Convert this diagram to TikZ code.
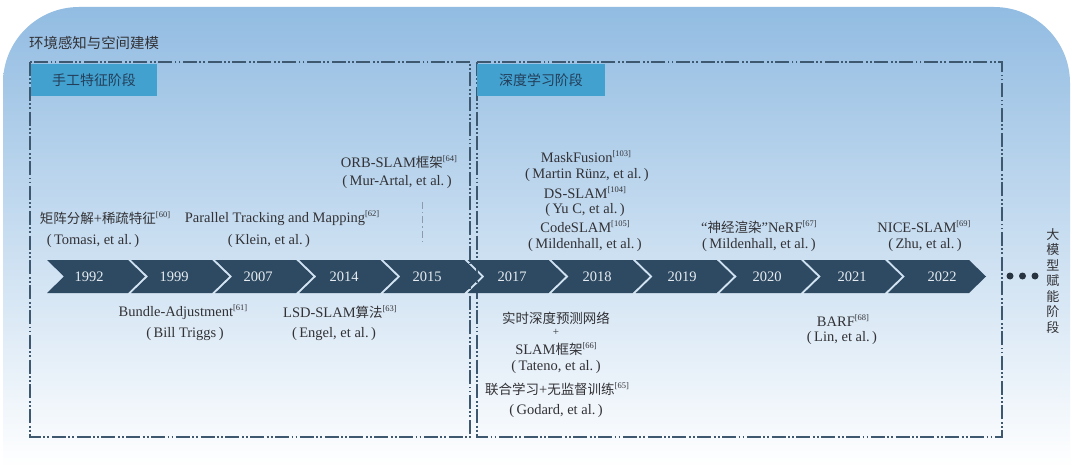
\documentclass[tikz,border=0pt]{standalone}
\usepackage{fontspec}
\setmainfont{Liberation Serif}
\newfontfamily\cjk[Scale=0.93]{Noto Sans CJK SC}
\newcommand{\zh}[1]{{\cjk #1}}
\newcommand{\refn}[1]{\raisebox{0.42em}{\fontsize{8.5}{9}\selectfont[#1]}}
\definecolor{bgtop}{RGB}{146,188,226}
\definecolor{stagefill}{RGB}{66,161,206}
\definecolor{stagetxt}{RGB}{36,62,90}
\definecolor{chevcol}{RGB}{46,74,98}
\definecolor{yeartxt}{RGB}{230,236,241}
\definecolor{txtcol}{RGB}{50,50,54}
\definecolor{dashcol}{RGB}{62,88,112}
\definecolor{dotcol}{RGB}{40,52,66}
\begin{document}
\begin{tikzpicture}[x=1pt,y=-1pt,
  lbl/.style={font=\fontsize{14.5}{17}\selectfont, text=txtcol, inner sep=0pt, anchor=center},
  yr/.style={font=\fontsize{14.5}{16}\selectfont, text=yeartxt, inner sep=0pt},
  stagebox/.style={fill=stagefill, text=stagetxt, font=\fontsize{15}{17}\selectfont, inner sep=0pt},
  dbox/.style={draw=dashcol, line width=1.2pt, dash pattern=on 14pt off 2.5pt on 1.8pt off 2.2pt on 1.8pt off 2.5pt},
  chev/.style={fill=chevcol},
  dotc/.style={circle, fill=dotcol, minimum size=7pt, inner sep=0pt},
  shortdash/.style={draw=dashcol!60, line width=1pt, dash pattern=on 7pt off 3pt on 1.5pt off 3pt}
]
\useasboundingbox (0,0) rectangle (1080,468);
\fill[white] (0,0) rectangle (1080,468);
% background
\shade[top color=bgtop, bottom color=white, rounded corners=76pt]
  (3,468) -- (3,7) -- (1070,7) -- (1070,468);
% title
\node[font=\fontsize{15.5}{17}\selectfont, text=txtcol, anchor=west, inner sep=0pt] (title) at (29,43) {\zh{环境感知与空间建模}};
% dashed stage boxes
\draw[dbox] (30,62) rectangle (470,437);
\draw[dbox] (477,62) rectangle (1002,437);
% stage labels
\node[stagebox, minimum width=126pt, minimum height=32pt] (stage1) at (94,80) {\zh{手工特征阶段}};
\node[stagebox, minimum width=128pt, minimum height=32pt] (stage2) at (541,80) {\zh{深度学习阶段}};
% chevrons
\foreach \i in {0,...,10}{
  \pgfmathsetmacro\xl{47+84.1*\i}
  \fill[chev] (\xl,260) -- ++(81,0) -- ++(17,16.5) -- ++(-17,16.5) -- ++(-81,0) -- ++(17,-16.5) -- cycle;
}
\foreach \yy/\xx in {1992/89,1999/174,2007/258,2014/344,2015/427,2017/512,2018/597,2019/682,2020/767,2021/852,2022/942}{
  \node[yr] (yr\yy) at (\xx,277) {\yy};
}
% ellipsis dots
\node[dotc] (d1) at (1010,276) {};
\node[dotc] (d2) at (1022.5,276) {};
\node[dotc] (d3) at (1035,276) {};
% vertical text
\node[font=\fontsize{14}{15.5}\selectfont, text=txtcol, align=center, inner sep=0pt] (vtext) at (1053,281) {\zh{大}\\\zh{模}\\\zh{型}\\\zh{赋}\\\zh{能}\\\zh{阶}\\\zh{段}};
% upper labels, first stage
\node[lbl] (t60a) at (105,218) {\zh{矩阵分解}+\zh{稀疏特征}\refn{60}};
\node[lbl] (t60b) at (93,241) {(\,Tomasi, et al.\,)};
\node[lbl] (t62a) at (282,218) {Parallel Tracking and Mapping\refn{62}};
\node[lbl] (t62b) at (269,241) {(\,Klein, et al.\,)};
\node[lbl] (t64a) at (399,162) {ORB-SLAM\zh{框架}\refn{64}};
\node[lbl] (t64b) at (397,182) {(\,Mur-Artal, et al.\,)};
\coordinate (sl1) at (422,202);
\coordinate (sl2) at (422,242);
\draw[shortdash] (sl1) -- (sl2);
% lower labels, first stage
\node[lbl] (t61a) at (183,312) {Bundle-Adjustment\refn{61}};
\node[lbl] (t61b) at (185,334) {(\,Bill Triggs\,)};
\node[lbl] (t63a) at (340,312) {LSD-SLAM\zh{算法}\refn{63}};
\node[lbl] (t63b) at (334,334) {(\,Engel, et al.\,)};
% upper labels, second stage
\node[lbl] (t103a) at (586,157) {MaskFusion\refn{103}};
\node[lbl] (t103b) at (587,175) {(\,Martin Rünz, et al.\,)};
\node[lbl] (t104a) at (585,193) {DS-SLAM\refn{104}};
\node[lbl] (t104b) at (585,210) {(\,Yu C, et al.\,)};
\node[lbl] (t105a) at (585,227) {CodeSLAM\refn{105}};
\node[lbl] (t105b) at (585,245) {(\,Mildenhall, et al.\,)};
\node[lbl] (t67a) at (759,227) {“\zh{神经渲染}”NeRF\refn{67}};
\node[lbl] (t67b) at (759,245) {(\,Mildenhall, et al.\,)};
\node[lbl] (t69a) at (924,227) {NICE-SLAM\refn{69}};
\node[lbl] (t69b) at (925,245) {(\,Zhu, et al.\,)};
% lower labels, second stage
\node[lbl] (t66a) at (556,318) {\zh{实时深度预测网络}};
\node[lbl, font=\fontsize{11}{12}\selectfont] (t66p) at (556,332) {+};
\node[lbl] (t66b) at (556,349) {SLAM\zh{框架}\refn{66}};
\node[lbl] (t66c) at (556,367) {(\,Tateno, et al.\,)};
\node[lbl] (t65a) at (557,389) {\zh{联合学习}+\zh{无监督训练}\refn{65}};
\node[lbl] (t65b) at (556,411) {(\,Godard, et al.\,)};
\node[lbl] (t68a) at (843,321) {BARF\refn{68}};
\node[lbl] (t68b) at (842,338) {(\,Lin, et al.\,)};
\end{tikzpicture}
\end{document}
